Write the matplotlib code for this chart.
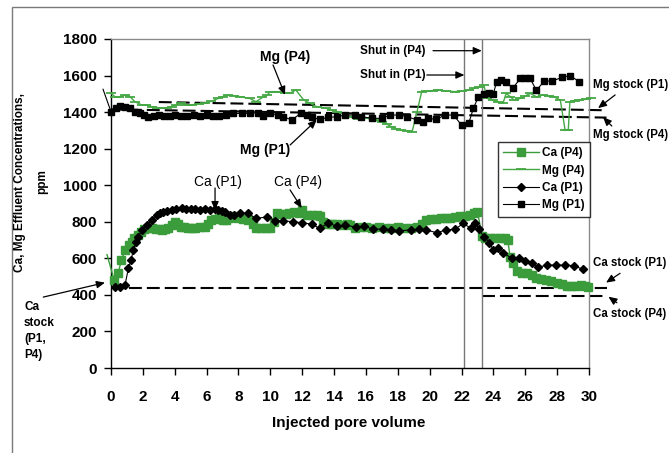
import matplotlib
matplotlib.use('Agg')
import matplotlib.pyplot as plt
from matplotlib.patches import Rectangle

plt.rcParams['font.family'] = ['Liberation Sans', 'DejaVu Sans']

# ---------------- data ----------------
ca_p4_x = [-0.25, 0.2, 0.45, 0.65, 0.9, 1.1, 1.3, 1.45, 1.7, 1.9, 2.1, 2.35, 2.6, 2.8, 3.0, 3.2, 3.4, 3.6,
           3.8, 4.0, 4.2, 4.4, 4.6, 4.85, 5.1, 5.3, 5.6, 5.9, 6.1, 6.3, 6.5, 6.75, 7.0, 7.2, 7.4, 7.6, 7.8,
           8.0, 8.3, 8.6, 8.9, 9.1, 9.4, 9.7, 10.0, 10.2, 10.4, 10.7, 11.0, 11.2, 11.5, 11.8, 12.0, 12.3,
           12.6, 12.9, 13.1, 13.3, 13.6, 13.9, 14.2, 14.5, 14.8, 15.0, 15.3, 15.6, 16.0, 16.4, 16.8, 17.2,
           17.6, 18.0, 18.4, 18.8, 19.2, 19.5, 19.8, 20.1, 20.4, 20.7, 21.0, 21.3, 21.6, 21.9, 22.2, 22.5,
           22.8, 23.0, 23.3, 23.5, 23.8, 24.1, 24.4, 24.7, 24.9, 25.05, 25.25, 25.5, 25.8, 26.1, 26.4,
           26.7, 27.0, 27.3, 27.6, 28.0, 28.3, 28.6, 28.9, 29.2, 29.5, 29.75, 29.95]
ca_p4_y = [620, 481, 518, 591, 645, 673, 690, 709, 730, 746, 760, 768, 764, 760, 758, 755, 760, 764,
           780, 800, 790, 773, 770, 764, 764, 768, 770, 773, 790, 809, 815, 818, 812, 809, 820, 828, 830,
           822, 815, 810, 790, 766, 766, 766, 766, 800, 848, 845, 840, 850, 855, 850, 865, 837,
           837, 837, 830, 800, 790, 788, 788, 785, 788, 785, 766, 770, 770, 768, 770, 765,
           768, 770, 768, 765, 770, 790, 810, 815, 815, 820, 822, 820, 825, 830, 830, 835,
           848, 855, 720, 710, 709, 709, 709, 709, 700, 609, 573, 530, 518, 518, 510,
           490, 485, 482, 475, 463, 458, 450, 450, 450, 452, 450, 444]

mg_p4_x = [0.0, 0.25, 0.5, 0.88, 1.2, 1.5, 1.93, 2.2, 2.55, 2.9, 3.18, 3.5, 3.8, 4.1, 4.4, 4.7, 5.07,
           5.5, 5.9, 6.3, 6.74, 7.0, 7.36, 7.7, 8.1, 8.7, 9.1, 9.5, 9.8, 10.0, 10.3, 10.6, 10.9, 11.2,
           11.6, 12.1, 12.5, 12.9, 13.5, 13.9, 14.2, 14.6, 15.0, 15.5, 16.1, 16.5, 16.99, 17.3, 17.6,
           17.9, 18.2, 18.6, 18.9, 19.2, 19.5, 19.8, 20.2, 20.5, 21.0, 21.6, 22.0, 22.45, 22.8, 23.1,
           23.4, 23.6, 23.99, 24.3, 24.6, 24.8, 25.05, 25.3, 25.7, 26.0, 26.3, 26.7, 27.1, 27.5, 27.8,
           28.2, 28.5, 28.7, 28.8, 29.1, 29.4, 29.8, 30.1]
mg_p4_y = [1503, 1484, 1480, 1493, 1484, 1457, 1439, 1439, 1430, 1425, 1421, 1425, 1430, 1440, 1448,
           1440, 1439, 1445, 1448, 1460, 1475, 1485, 1493, 1490, 1484, 1475, 1457, 1480, 1493, 1512,
           1512, 1512, 1507, 1502, 1521, 1466, 1448, 1430, 1421, 1410, 1402, 1393, 1375, 1365, 1366,
           1355, 1348, 1335, 1320, 1310, 1302, 1298, 1293, 1400, 1512, 1515, 1518, 1521, 1515, 1512,
           1515, 1521, 1530, 1539, 1548, 1475, 1466, 1455, 1448, 1502, 1485, 1466, 1475, 1488, 1502,
           1484, 1493, 1488, 1484, 1466, 1302, 1302, 1457, 1462, 1466, 1470, 1475]

ca_p1_x = [0.25, 0.57, 0.88, 1.09, 1.26, 1.4, 1.57, 1.72, 1.93, 2.24, 2.55, 2.87, 3.1, 3.28, 3.5, 3.81,
           4.1, 4.44, 4.7, 5.0, 5.3, 5.6, 5.9, 6.2, 6.5, 6.74, 6.95, 7.16, 7.47, 7.7, 8.1, 8.62, 9.1,
           9.8, 10.3, 10.8, 11.4, 11.97, 12.6, 13.1, 13.6, 14.2, 14.7, 15.4, 15.9, 16.45, 17.1, 17.6,
           18.1, 18.8, 19.3, 19.8, 20.45, 21.0, 21.6, 22.1, 22.6, 22.85, 23.1, 23.4, 23.75, 24.0, 24.3,
           24.6, 25.15, 25.6, 26.0, 26.4, 26.8, 27.35, 27.9, 28.5, 29.05, 29.6]
ca_p1_y = [445, 441, 454, 545, 591, 645, 690, 718, 755, 782, 810, 837, 848, 855, 860, 864,
           868, 873, 870, 868, 870, 866, 868, 865, 868, 866, 860, 855, 837, 837, 846, 846, 818,
           827, 806, 806, 800, 795, 787, 764, 791, 777, 782, 770, 775, 760, 760, 755,
           751, 755, 759, 755, 740, 755, 759, 791, 764, 795, 759, 718, 686, 645, 655,
           631, 600, 600, 587, 576, 551, 563, 563, 563, 560, 540]

mg_p1_x = [-0.5, 0.0, 0.3, 0.55, 0.9, 1.2, 1.5, 1.8, 2.1, 2.35, 2.7, 3.0, 3.3, 3.7, 4.0, 4.4, 4.8, 5.2,
           5.6, 6.0, 6.4, 6.8, 7.2, 7.68, 8.2, 8.7, 9.2, 9.55, 9.98, 10.5, 10.8, 11.35, 11.9, 12.3, 12.6,
           13.1, 13.6, 14.2, 14.7, 15.3, 15.7, 16.4, 17.0, 17.5, 18.1, 18.6, 19.2, 19.6, 19.9, 20.4,
           20.97, 21.5, 22.0, 22.45, 22.74, 23.06, 23.4, 23.7, 24.0, 24.2, 24.5, 24.8, 25.2, 25.7,
           26.0, 26.3, 26.7, 27.2, 27.7, 28.3, 28.8, 29.4]
mg_p1_y = [1525, 1402, 1420, 1433, 1430, 1420, 1402, 1395, 1384, 1375, 1380, 1385, 1380, 1378, 1385,
           1380, 1378, 1382, 1378, 1385, 1380, 1378, 1382, 1393, 1393, 1393, 1397, 1379, 1393, 1384,
           1375, 1357, 1393, 1384, 1371, 1360, 1371, 1375, 1384, 1384, 1375, 1366, 1366, 1384, 1384,
           1375, 1357, 1348, 1366, 1360, 1384, 1384, 1329, 1338, 1420, 1484, 1500, 1505, 1500, 1566,
           1575, 1566, 1530, 1584, 1584, 1584, 1520, 1570, 1570, 1590, 1600, 1566]

# stock (reference) levels
mg_stock_p1_x = [3.0, 31.1]
mg_stock_p1_y = [1455, 1410]
mg_stock_p4_x = [0.0, 31.1]
mg_stock_p4_y = [1415, 1370]
ca_stock_p1_x = [0.0, 31.1]
ca_stock_p1_y = [440, 440]
ca_stock_p4_x = [23.27, 31.1]
ca_stock_p4_y = [395, 395]

shut_in_p1 = 22.18
shut_in_p4 = 23.27

x_ticks = list(range(0, 31, 2))
y_ticks = list(range(0, 1801, 200))

# ---------------- figure ----------------
W, H = 669, 453
fig = plt.figure(figsize=(W / 100, H / 100), dpi=100)
fig.patch.set_facecolor('white')
fig.patches.append(Rectangle((12 / W, -0.2), 2, 1 - 7 / H + 0.2, transform=fig.transFigure,
                             fill=False, edgecolor='#7a7a7a', lw=1.0))

ax = fig.add_axes([111 / W, 1 - 368 / H, (589 - 111) / W, (368 - 39) / H])

GREEN = '#3a9c3a'
GREEN_L = '#45a845'
dash = (0, (6.2, 2.4))

ax.plot(mg_stock_p1_x, mg_stock_p1_y, color='black', lw=1.5, ls=dash, clip_on=False, zorder=1)
ax.plot(mg_stock_p4_x, mg_stock_p4_y, color='black', lw=1.5, ls=dash, clip_on=False, zorder=1)
ax.plot(ca_stock_p1_x, ca_stock_p1_y, color='black', lw=1.5, ls=dash, clip_on=False, zorder=1)
ax.plot(ca_stock_p4_x, ca_stock_p4_y, color='black', lw=1.5, ls=dash, clip_on=False, zorder=1)

for xv in (shut_in_p1, shut_in_p4):
    ax.axvline(xv, color='#777777', lw=1.0, zorder=1)

ax.plot(ca_p4_x, ca_p4_y, color=GREEN, lw=1.0, marker='s', ms=5.3, mec=GREEN, mfc=GREEN,
        markevery=slice(1, None), clip_on=False, zorder=3, label='Ca (P4)')
ax.plot(mg_p4_x, mg_p4_y, color=GREEN_L, lw=1.0, marker='_', ms=7, mew=1.3, mec=GREEN_L,
        clip_on=False, zorder=3, label='Mg (P4)')
ax.plot(ca_p1_x, ca_p1_y, color='black', lw=0.8, marker='D', ms=4, mec='black', mfc='black',
        clip_on=False, zorder=4, label='Ca (P1)')
ax.plot(mg_p1_x, mg_p1_y, color='black', lw=0.8, marker='s', ms=5, mec='black', mfc='black',
        markevery=slice(1, None), clip_on=False, zorder=4, label='Mg (P1)')

ax.set_xlim(0, 30)
ax.set_ylim(0, 1800)
ax.set_xticks(x_ticks)
ax.set_yticks(y_ticks)
ax.tick_params(axis='both', direction='out', length=5, width=1, colors='black',
               labelsize=11)
ax.tick_params(axis='x', pad=10.5)
ax.tick_params(axis='y', pad=5)
for lbl in ax.get_xticklabels() + ax.get_yticklabels():
    lbl.set_fontweight('bold')
for s in ('left', 'bottom'):
    ax.spines[s].set_color('black')
    ax.spines[s].set_linewidth(1.0)
for s in ('top', 'right'):
    ax.spines[s].set_color('#8a8a8a')
    ax.spines[s].set_linewidth(1.0)

ax.set_xlabel('Injected pore volume', fontsize=11, fontweight='bold', va='center')
ax.xaxis.set_label_coords((349 - 111) / 478, (368 - 423) / 329)

fig.text(20 / W, 1 - 182.5 / H, 'Ca, Mg Effluent Concentrations,', rotation=90,
         ha='center', va='center', fontsize=8.5, fontweight='bold')
fig.text(41.7 / W, 1 - 182 / H, 'ppm', rotation=90, ha='center', va='center',
         fontsize=8.5, fontweight='bold')

leg = ax.legend(loc='upper left', bbox_to_anchor=((498 - 111) / 478, (368 - 142) / 329),
                fancybox=False, frameon=True, edgecolor='black',
                prop={'weight': 'bold', 'size': 8.5}, handlelength=3.0, labelspacing=0.45,
                borderpad=0.45, handletextpad=0.3, borderaxespad=0)
leg.get_frame().set_linewidth(1.0)

arrow = dict(arrowstyle='-|>,head_length=0.5,head_width=0.22', color='black', lw=0.9,
             shrinkA=0, shrinkB=0)


def arr(tail, tip):
    ax.annotate('', xy=tip, xytext=tail, arrowprops=arrow, annotation_clip=False)


def txt(x, y, s, size=9, weight='bold', ha='center', va='center', **kw):
    ax.text(x, y, s, fontsize=size, fontweight=weight, ha=ha, va=va, clip_on=False, **kw)


txt(10.92, 1701, 'Mg (P4)', size=10)
arr((10.17, 1658), (10.92, 1494))
txt(9.67, 1193, 'Mg (P1)', size=10)
arr((11.24, 1220), (12.91, 1357))
txt(6.72, 1018, 'Ca (P1)', size=10, weight='normal')
arr((6.53, 985), (6.53, 864))
txt(11.74, 1018, 'Ca (P4)', size=10, weight='normal')
arr((11.24, 974), (11.97, 875))

txt(15.63, 1736, 'Shut in (P4)', size=8.5, ha='left')
arr((20.21, 1736), (23.27, 1736))
txt(15.63, 1603, 'Shut in (P1)', size=8.5, ha='left')
arr((19.82, 1603), (22.18, 1603))

txt(30.26, 1548, 'Mg stock (P1)', size=8.3, ha='left')
arr((31.64, 1494), (30.57, 1422))
txt(30.26, 1275, 'Mg stock (P4)', size=8.3, ha='left')
arr((31.43, 1324), (30.88, 1372))
txt(30.26, 573, 'Ca stock (P1)', size=8.3, ha='left')
arr((31.95, 518), (31.07, 467))
txt(30.26, 295, 'Ca stock (P4)', size=8.3, ha='left')
arr((31.75, 357), (31.22, 390))

txt(-5.46, 202, 'Ca\nstock\n(P1,\nP4)', size=8.5, ha='left', linespacing=1.45)
arr((-4.25, 388), (-0.38, 467))

fig.savefig('out.png', dpi=100, facecolor='white')
